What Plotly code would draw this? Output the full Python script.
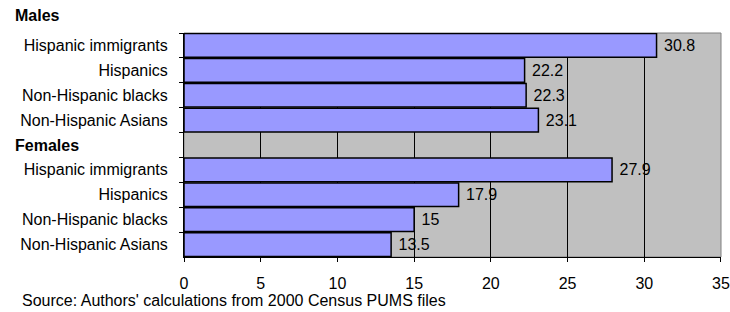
import plotly.graph_objects as go

groups = ["Males", "Females"]
categories = ["Hispanic immigrants", "Hispanics", "Non-Hispanic blacks", "Non-Hispanic Asians"]
males = [30.8, 22.2, 22.3, 23.1]
females = [27.9, 17.9, 15, 13.5]
x_ticks = [0, 5, 10, 15, 20, 25, 30, 35]
source = "Source: Authors' calculations from 2000 Census PUMS files"

ZW = "\u200b"
NB = "\u00a0"
y_cats = categories + [ZW * 5] + [c + ZW for c in categories]
x_vals = males + [None] + females
texts = [NB + f"{v:g}" for v in males] + [""] + [NB + f"{v:g}" for v in females]

FONT = "Liberation Sans, Arial, sans-serif"
FS = 16

W, H = 730, 312
L, R, T, B = 184, 730 - 721, 33, 312 - 257
pw, ph = W - L - R, H - T - B

def px(xs):
    return (xs - L) / pw

def py(ys):
    return (H - B - ys) / ph

fig = go.Figure()
fig.add_trace(go.Bar(
    x=x_vals, y=y_cats, orientation="h",
    marker=dict(color="#9999FF", line=dict(color="black", width=1.5)),
    text=texts, textposition="outside", cliponaxis=False,
    textfont=dict(family=FONT, size=FS, color="black"),
    hoverinfo="skip",
))

fig.update_layout(
    width=W, height=H,
    margin=dict(l=L, r=R, t=T, b=B, autoexpand=False),
    paper_bgcolor="white", plot_bgcolor="#C0C0C0",
    showlegend=False, bargap=0.05,
    font=dict(family=FONT, size=FS, color="black"),
    xaxis=dict(range=[0, 35.001], tickvals=x_ticks, ticks="outside", ticklen=4,
               tickcolor="black", showline=True, linecolor="black", linewidth=1,
               showgrid=True, gridcolor="black", gridwidth=1, zeroline=False,
               automargin=False, ticklabelstandoff=8,
               tickfont=dict(family=FONT, size=FS, color="black")),
    yaxis=dict(autorange="reversed", type="category", tickson="boundaries",
               ticks="outside", ticklen=4, tickcolor="black", showline=True,
               linecolor="black", linewidth=1, showgrid=False,
               ticklabelstandoff=12, automargin=False,
               tickfont=dict(family=FONT, size=FS, color="black")),
    shapes=[dict(type="rect", xref="paper", yref="paper", x0=0, x1=1, y0=0, y1=1,
                 line=dict(color="#808080", width=1), layer="below")],
    annotations=[
        dict(text="<b>" + groups[0] + "</b>", xref="paper", yref="paper",
             x=px(13), y=py(15), xanchor="left", yanchor="middle", showarrow=False,
             font=dict(family=FONT, size=FS, color="black")),
        dict(text="<b>" + groups[1] + "</b>", xref="paper", yref="paper",
             x=px(13), y=py(145), xanchor="left", yanchor="middle", showarrow=False,
             font=dict(family=FONT, size=FS, color="black")),
        dict(text=source, xref="paper", yref="paper",
             x=px(20), y=py(300), xanchor="left", yanchor="middle", showarrow=False,
             font=dict(family=FONT, size=FS, color="black")),
    ],
)

fig.write_html(
    "out.html",
    config={"displayModeBar": False, "staticPlot": True},
    post_script="document.body.style.margin='0';document.documentElement.style.overflow='hidden';",
)
